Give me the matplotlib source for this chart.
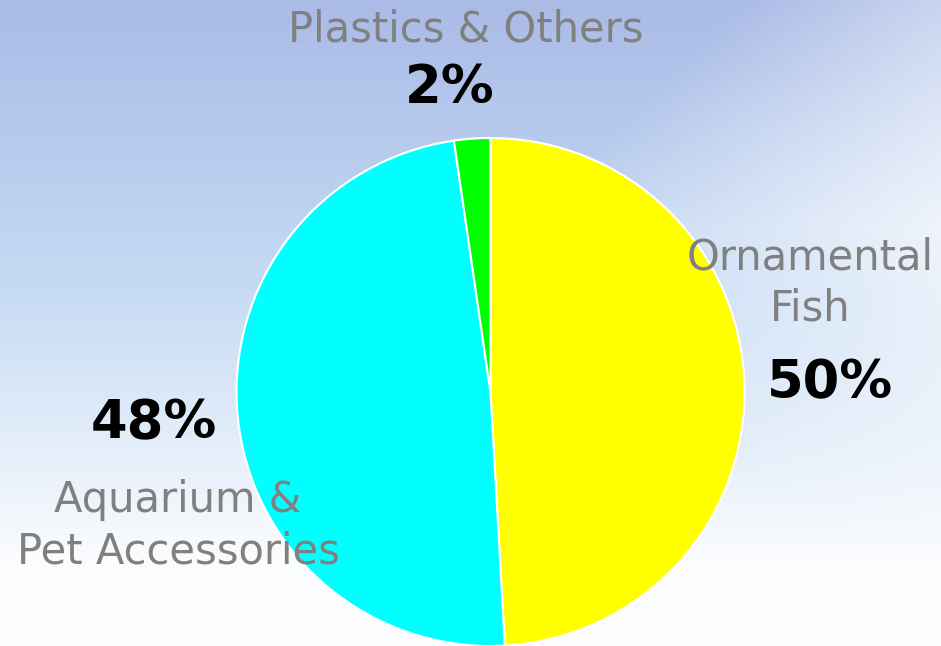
import numpy as np
import matplotlib
matplotlib.use('Agg')
import matplotlib.pyplot as plt
from matplotlib.colors import to_rgb

# データ（扇形の角度は画像から読み取り、ラベルは表示どおり）
labels = ['Ornamental\nFish', 'Aquarium &\nPet Accessories', 'Plastics & Others']
shares = [49.1, 48.6, 2.3]
pct_text = ['50%', '48%', '2%']
colors = ['#ffff00', '#00ffff', '#00ff00']

W, H = 941, 646
fig = plt.figure(figsize=(W / 100, H / 100), dpi=100)
ax = fig.add_axes([0, 0, 1, 1])

# 背景（空のようなグラデーション）
yy, xx = np.mgrid[0:1:200j, 0:1:300j]
top = np.array(to_rgb('#aabbe6'))
mid = np.array(to_rgb('#c4daf4'))
bot = np.array(to_rgb('#fbfcfe'))
t = np.clip(yy * 1.15, 0, 1)[..., None]
img = np.where(t < 0.5, top + (mid - top) * (t / 0.5), mid + (bot - mid) * ((t - 0.5) / 0.5))
# 右上の明るい雲
cloud = np.clip((xx - 0.55) * 2.2 - np.abs(yy - 0.35) * 1.5, 0, 1)[..., None] * 0.8
img = img + (bot - img) * cloud
ax.imshow(np.clip(img, 0, 1), extent=(0, W, 0, H), origin='upper', aspect='auto', zorder=0)

# 円グラフ
ax.pie(shares, colors=colors, startangle=90, counterclock=False,
       center=(490.5, H - 392), radius=254,
       wedgeprops=dict(edgecolor='white', linewidth=1.5), frame=True)
ax.set_xlim(0, W)
ax.set_ylim(0, H)
ax.set_aspect('equal')
ax.axis('off')

gray = '#808080'
name_font = dict(family='DejaVu Sans', fontsize=30, color=gray, ha='center', va='center', zorder=5)
pct_font = dict(family='DejaVu Sans', fontsize=38, color='black', fontweight='bold', ha='center', va='center', zorder=5)

ax.text(810, H - 283, labels[0], linespacing=1.3, **name_font)
ax.text(830, H - 383, pct_text[0], **pct_font)
ax.text(178, H - 526, labels[1], linespacing=1.3, **name_font)
ax.text(154, H - 423, pct_text[1], **pct_font)
ax.text(466, H - 30, labels[2], **name_font)
ax.text(450, H - 88, pct_text[2], **pct_font)

fig.savefig('out.png', dpi=100)
